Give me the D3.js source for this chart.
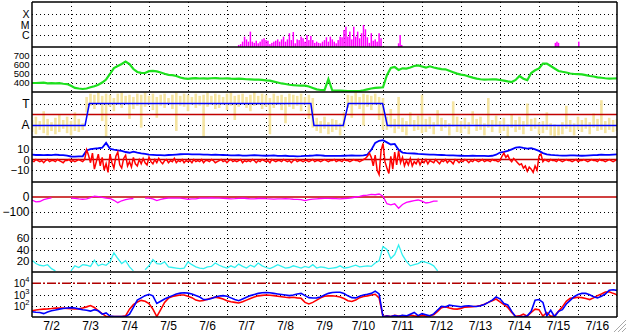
<!DOCTYPE html>
<html><head><meta charset="utf-8">
<script src="https://cdn.jsdelivr.net/npm/d3@7"></script>
<style>body{margin:0;background:#fff}svg{display:block}text{font-family:"Liberation Sans",Arial,sans-serif;fill:#000}</style>
</head><body><svg id="c" width="628" height="334"></svg>
<script>
// ---------- data ----------
const dayLabels = ["7/2","7/3","7/4","7/5","7/6","7/7","7/8","7/9","7/10","7/11","7/12","7/13","7/14","7/15","7/16"];
const sampleStep = 0.1;   // days between samples (series start at 7/2 00:00)
const bzStep = 0.05;      // finer sampling for Bz

const xrayLabels = ["X","M","C"];
const xrayTicks = [1e-4,1e-5,1e-6];
const xrayStart = 5.3, xrayStep = 0.05;
const xrayFlux = [1.0e-7,1.2e-7,2.1e-7,6.5e-7,3.5e-7,2.1e-7,2.0e-6,2.1e-7,1.6e-7,2.6e-7,
1.45e-7,2.1e-7,3.5e-7,4.5e-7,3.0e-7,2.6e-7,1.2e-7,1.6e-7,2.1e-7,2.6e-7,
3.5e-7,2.1e-7,3.5e-7,6.5e-7,2.1e-7,3.5e-7,1.4e-6,3.0e-7,1.85e-6,1.45e-7,
3.5e-7,3.0e-7,6.5e-7,4.5e-7,2.1e-7,9.3e-7,3.0e-7,7.6e-7,3.0e-7,1.6e-7,
2.1e-7,1.6e-7,1.45e-7,2.1e-7,3.0e-7,5.6e-7,2.1e-7,6.5e-7,3.5e-7,2.1e-7,
1.45e-7,3.0e-7,6.5e-7,5.6e-7,2.9e-6,6.1e-6,6.5e-7,2.0e-6,3.5e-7,6.1e-6,
6.5e-7,2.0e-6,4.5e-7,1.4e-6,8.9e-6,3.4e-6,5.6e-7,1.6e-7,1.4e-6,2.6e-7,
3.5e-7,2.1e-7,1.4e-6,4.5e-7];
const xrayExtraDays = [9.40,9.44,9.48,13.42,13.46,13.50,14.02];
const xrayExtraFlux = [1.45e-7,9.3e-7,1.0e-7,1.6e-7,2.1e-7,1.6e-7,2.1e-7];

const speedTicks = [400,500,600,700];
const windSpeed = [398,398,400,402,395,397,393,396,390,386,
367,344,338,333,338,351,363,380,403,436,
496,561,583,605,632,605,550,518,509,507,
527,529,524,512,498,487,483,474,458,449,
442,448,452,447,449,446,450,452,448,447,
449,446,444,445,442,439,437,435,434,431,
426,423,413,403,393,387,379,374,371,370,
369,360,344,329,322,320,440,316,315,314,
313,311,311,311,311,319,329,338,344,348,
351,484,561,572,540,558,554,567,583,590,
577,565,580,567,558,550,547,531,516,500,
490,482,469,456,446,439,435,436,437,437,
431,424,416,409,431,474,445,429,507,536,
556,610,610,583,556,529,520,512,501,496,
494,491,483,474,469,460,455,450,446,447,449];

const sectorLabels = ["T","A"];
const sectorTicks = [1,-1];
const sectorDays = [0,1.36,1.47,7.15,7.23,7.98,8.11,8.99,9.11,15];
const sectorPolarity = [-1,-1,1,1,-1,-1,1,1,-1,-1];
const imfHigh = [-0.5,-0.2,-0.6,0.3,-0.4,-0.7,-0.3,0.0,-0.5,-0.2,-0.6,0.2,-0.4,-0.8,
1.6,1.9,1.8,2.0,1.7,1.9,1.8,1.5,1.9,2.0,1.7,1.8,1.6,1.9,1.8,2.0,1.7,1.9,1.6,1.8,1.9,1.5,1.8,2.0,1.7,1.9,1.8,1.6,1.9,1.7,1.8,2.0,1.7,1.9,
1.8,1.6,1.9,2.0,1.7,1.8,1.9,1.6,1.8,2.0,1.7,1.9,1.8,1.5,1.9,1.7,1.8,1.6,1.9,1.8,1.7,1.9,1.6,1.8,1.5,
-0.3,-0.6,-0.2,-0.7,-0.4,-0.5,-0.8,0.2,
1.8,1.7,2.0,1.6,1.9,1.8,1.7,1.9,1.6,1.5,
-0.2,0.5,-0.4,1.6,-0.3,-0.6,0.2,-0.5,-0.1,1.8,
-0.4,-0.2,-0.7,0.4,-0.3,-0.5,-0.8,1.2,-0.2,-0.6,
-0.3,-0.7,0.3,-0.4,-0.2,-0.8,1.5,-0.5,-0.1,-0.6,
-0.3,-0.9,0.0,-0.5,-0.2,-0.6,1.0,-0.4,-0.3,-0.7,
-0.6,0.2,-0.8,-0.9,-1.0,-0.7,0.8,-0.5,-0.8,-0.2,
-0.5,-0.3,-0.7,0.1,-0.4,1.3,-0.6,-0.3,-0.5,-0.4];
const imfLow = [-1.6,-1.8,-1.4,-1.7,-1.9,-1.5,-1.8,-1.6,-1.3,-1.7,-1.9,-1.5,-1.6,-1.4,
0.2,0.8,0.5,0.9,-0.6,-2.0,0.7,0.3,0.9,0.6,1.0,-0.4,0.5,0.8,-1.2,0.7,0.9,0.4,-0.3,0.8,0.6,1.0,0.5,-1.5,0.8,0.7,0.3,0.9,0.6,0.8,-2.0,0.7,0.9,0.5,
0.6,0.9,0.4,0.8,-0.5,0.7,1.0,0.6,0.3,0.8,0.9,0.5,0.7,-1.8,0.6,0.9,0.4,-0.8,0.7,0.5,0.8,0.3,0.9,-0.4,-1.2,
-1.5,-1.7,-1.3,-1.8,-1.6,-1.4,-1.9,-1.2,
0.6,-0.3,0.8,0.5,-1.0,0.7,0.4,0.9,-0.5,-1.4,
-1.4,-1.2,-1.7,-1.3,-1.6,-1.9,-1.1,-1.5,-1.4,-1.7,
-1.6,-1.3,-1.8,-1.0,-1.5,-1.2,-1.9,-1.1,-1.6,-1.7,
-1.3,-1.8,-0.9,-1.5,-1.4,-1.9,-1.2,-1.6,-1.1,-1.7,
-1.5,-2.0,-1.2,-1.6,-1.4,-1.8,-1.1,-1.5,-1.3,-1.8,
-1.7,-1.4,-1.9,-2.0,-1.9,-1.8,-1.3,-1.6,-1.9,-1.4,
-1.6,-1.3,-1.8,-1.2,-1.5,-1.4,-1.7,-1.4,-1.6,-1.5];

const bTicks = [10,0,-10];
const bt = [4.5,4.2,4.4,4.0,4.3,4.1,4.5,4.2,4.0,3.6,
2.8,2.6,2.9,3.0,8.5,9.6,10.2,10.5,11,15.5,
10,9.2,8.6,8,7,6.3,7.3,6.5,5.8,5.2,
4.6,4.3,4.0,4.1,3.9,4.2,4.3,4.6,4.9,5.1,
5.0,4.8,4.7,4.8,4.6,4.5,4.4,4.5,4.3,4.2,
4.0,3.8,3.9,4.1,3.7,3.6,3.8,4.0,3.9,3.7,
3.5,3.6,3.8,3.4,3.3,3.5,3.2,3.1,3.0,3.1,
3.4,3.5,3.7,4.0,3.8,3.5,3.3,3.3,3.4,3.3,
3.5,3.6,3.8,3.7,3.6,3.8,4.5,9,15.5,17.5,
18,16,14,14.5,9,6.5,6.0,5.8,5.6,5.2,
5.0,4.8,4.6,4.5,4.3,4.2,4.0,3.9,3.8,3.6,
3.5,3.4,3.4,3.5,3.3,3.4,3.3,3.2,3.5,4.5,
6.5,7.2,8.0,9.5,11,11.5,10.8,10.2,10.5,9.5,
8.0,6.0,4.8,4.3,4.0,3.8,3.7,3.6,3.8,3.9,
3.7,3.5,3.6,3.8,4.0,4.2,4.5,4.3,4.4,4.6,4.8];
const bz = [-1,-2,0,-1,-2,-1,-3,-1,0,-2,-1,-1,-2,0,-1,-2,-3,-1,-1,0,-2,-1,-2,-1,0,-1,-2,
0,9,4,-3,6,-9,-2,5,-6,2,-10,-4,-12,5,-3,-8,3,7,-5,-8,1,4,-6,-2,-7,2,-4,-6,0,-4,1,-3,-5,
2,-2,-4,0,-3,1,-2,-4,-1,0,-3,-1,-2,1,-3,-1,-2,0,-3,-1,-2,
-1,-3,0,-2,-1,-2,0,-3,-1,-1,
-2,0,-1,-3,-2,-1,0,-2,-1,-3,
-1,0,-2,-1,-2,-1,0,-3,-1,-2,
-1,-2,0,-1,-3,-1,-2,0,-1,-2,
-1,-3,0,-1,-2,-1,-1,-2,0,-1,
-2,-1,-3,-1,0,-2,-1,-1,-2,-1,
-1,-2,-1,0,-2,-1,-1,-2,-1,0,
-1,-2,-1,-1,0,-2,-1,-1,-2,0,
-1,-1,-2,-1,0,-1,-1,-2,-1,0,
1,3,6,2,-6,4,-10,-14,8,15,-2,-8,-13,3,-9,7,-5,8,-3,2,-6,-1,-5,1,-6,-2,-4,0,-5,-1,
-3,0,-4,-1,-2,-3,0,-2,-4,-1,
-2,0,-3,-1,-2,-4,0,-1,-3,-1,
-2,0,-1,-3,-1,-2,0,-1,-2,-1,
0,-2,-1,-1,-2,0,-1,-1,-2,-1,
3,6,2,4,0,-2,1,-1,-3,-5,-4,-8,-6,-11,-7,-9,-12,-6,-10,3,5,-2,0,
-1,-2,0,-1,-1,-2,0,-1,-2,-1,
0,-1,-1,-2,-1,0,-2,-1,-1,0,
-1,-2,-1,0,-1,-1,-2,0,-1,-1,
-2,-1,0,-1,-2,-1,0];

const dstTicks = [0,-100];
const dst = [-20,-33,-30,-18,-11,-6,null,null,null,null,
-7,-9,-13,-15,-12,-5,5,3,-3,-8,
-10,-22,-38,-25,-18,-12,-10,null,null,-8,
-8,-12,-24,-16,-10,-8,-7,-7,-7,-11,
-15,-13,-12,-8,-7,-7,-6,-7,-8,-9,
-10,-12,-11,-9,-8,-10,-13,-12,-10,-9,
-11,-12,-14,-13,-12,-11,-13,-15,-16,-18,
-24,-18,-14,-12,-10,-9,-9,-10,-11,-12,
-10,-9,-5,0,4,10,13,18,15,20,
5,-45,-52,-45,-75,-50,-36,-30,-24,-20,
-28,-40,-36,-28,-27];

const cyanTicks = [20,40,60];
const cyanSeries = [21,15,12,11,13,6,2,null,null,null,
2,11,8,13,12,10,21,11,14,12,
18,34,24,15,20,9,2,null,null,4,
11,22,15,14,18,9,8,7,6,7,
18,13,9,7,6,9,10,16,12,9,
7,11,8,14,10,7,12,9,16,11,
8,6,9,13,10,7,8,11,9,7,
10,8,13,7,9,8,6,7,8,11,
7,8,10,12,9,10,11,10,16,20,
45,40,24,31,48,30,19,11,13,15,
19,17,15,11,2];

const fluxTickExp = [4,3,2];
const fluxBlueExp = [1.47,1.42,1.40,1.30,1.45,1.55,1.62,1.70,1.75,1.80,
1.83,1.80,1.72,1.64,1.60,1.52,1.65,1.55,1.25,1.36,
1.08,1.03,1.03,1.04,1.03,1.25,1.85,2.5,2.7,2.9,
3.02,2.88,2.2,2.4,2.6,2.75,2.9,3.05,3.12,3.15,
3.12,3.05,2.92,2.78,2.55,2.55,2.65,2.78,2.87,2.9,
2.85,2.7,2.55,2.45,2.6,2.75,2.9,3.0,3.1,3.15,
3.18,3.15,3.1,3.05,3.0,2.95,2.9,2.95,3.05,3.1,
2.9,2.72,2.69,2.7,2.78,2.96,3.1,3.18,3.2,3.2,
3.08,2.88,2.72,2.7,2.85,2.95,3.02,3.1,3.3,3.05,
1.02,1.08,1.05,1.12,1.06,1.15,1.1,1.25,1.4,1.12,
1.3,1.2,1.1,1.28,1.62,1.95,1.9,2.05,2.0,1.95,
1.9,1.98,2.0,1.96,1.94,2.0,2.12,2.3,2.5,2.78,
2.62,2.2,2.07,1.5,1.02,1.05,1.02,1.1,1.5,2.5,
2.55,2.3,1.1,1.6,1.02,1.5,1.65,2.16,2.48,2.8,
3.0,3.1,3.1,2.98,2.8,2.7,2.85,3.04,3.38,3.42,3.37];
const fluxRedExp = [1.56,1.62,1.66,1.70,1.72,1.75,1.79,1.80,1.79,1.76,
1.74,1.71,1.72,1.80,1.9,2.02,1.85,1.55,1.3,1.06,
1.03,1.04,1.03,1.04,1.1,1.7,2.1,2.33,2.48,2.4,
2.2,1.7,1.04,1.65,2.3,2.68,2.82,2.9,2.96,2.95,
2.85,2.72,2.5,2.42,2.46,2.58,2.68,2.75,2.7,2.6,
2.45,2.35,2.3,2.25,2.35,2.5,2.65,2.78,2.88,2.92,
2.95,2.93,2.9,2.85,2.8,2.75,2.72,2.75,2.7,2.66,
2.3,2.16,2.3,2.5,2.7,2.84,2.88,2.89,2.85,2.78,
2.65,2.45,2.38,2.5,2.72,2.82,2.88,2.95,3.02,2.7,
1.03,1.1,1.05,1.15,1.08,1.12,1.05,1.18,1.1,1.06,
1.14,1.08,1.12,1.2,1.5,1.82,1.92,1.8,1.72,1.7,
1.75,1.88,1.9,1.92,1.96,2.02,2.14,2.3,2.45,2.6,
2.35,2.1,1.85,1.4,1.06,1.1,1.25,1.08,1.4,1.7,
1.65,1.08,1.4,1.06,1.1,1.5,1.9,2.4,2.66,2.7,
2.75,2.72,2.64,2.55,2.7,2.9,3.05,3.22,3.24,3.1,2.98];

// ---------- layout ----------
const svg = d3.select("#c");
const X0 = 32, X1 = 617, TOP = 2, PH = 45, NP = 7;
const pTop = i => TOP + i * PH, pBot = i => TOP + (i + 1) * PH;
const x = d3.scaleLinear().domain([0, dayLabels.length]).range([X0, X1]);
const tx = (d, i) => x(i * sampleStep);

const yX = d3.scaleLog().domain([10 ** -7.2, 10 ** -2.8]).range([pBot(0), pTop(0)]);
const yV = d3.scaleLinear().domain([300, 790]).range([pBot(1), pTop(1)]);
const yS = d3.scaleLinear().domain([-2.05, 2.05]).range([pBot(2), pTop(2)]);
const yB = d3.scaleLinear().domain([-21, 21]).range([pBot(3), pTop(3)]);
const yD = d3.scaleLinear().domain([-200, 100]).range([pBot(4), pTop(4)]);
const yC = d3.scaleLinear().domain([0, 80]).range([pBot(5), pTop(5)]);
const yF = d3.scaleLog().domain([10, 1e5]).range([pBot(6), pTop(6)]);

const defs = svg.append("defs");
for (let i = 0; i < NP; i++) {
  defs.append("clipPath").attr("id", "cp" + i).append("rect")
    .attr("x", X0).attr("y", pTop(i)).attr("width", X1 - X0).attr("height", PH);
}
const px = v => Math.round(v) + 0.5;

// ---------- grid ----------
const grid = svg.append("g").attr("stroke", "#000").attr("stroke-width", 1).attr("stroke-dasharray", "1,3");
d3.range(1, dayLabels.length).forEach(d => {
  grid.append("line").attr("x1", px(x(d))).attr("x2", px(x(d))).attr("y1", TOP).attr("y2", pBot(6));
});
function hgrid(scale, vals) {
  vals.forEach(v => grid.append("line").attr("x1", X0).attr("x2", X1)
    .attr("y1", px(scale(v))).attr("y2", px(scale(v))));
}
hgrid(yX, xrayTicks);
hgrid(yV, speedTicks);
hgrid(yS, sectorTicks);
hgrid(yB, [10, -10]);
hgrid(yD, [-100]);
hgrid(yC, cyanTicks);
hgrid(yF, [1e3, 1e2]);

// ---------- data marks ----------
function drawLine(panel, arr, xf, yf, color, w) {
  svg.append("path").attr("clip-path", `url(#cp${panel})`)
    .attr("d", d3.line().defined(d => d != null).x(xf).y(yf)(arr))
    .attr("fill", "none").attr("stroke", color).attr("stroke-width", w)
    .attr("stroke-linejoin", "miter");
}

// Panel 0: X-ray bars
const gx = svg.append("g").attr("clip-path", "url(#cp0)").attr("fill", "#ff00ff");
xrayFlux.forEach((f, k) => {
  const xx = x(xrayStart + k * xrayStep);
  gx.append("rect").attr("x", xx - 0.75).attr("width", 1.5)
    .attr("y", yX(f)).attr("height", pBot(0) - yX(f));
});
xrayExtraFlux.forEach((f, k) => {
  const xx = x(xrayExtraDays[k]);
  gx.append("rect").attr("x", xx - 0.75).attr("width", 1.5)
    .attr("y", yX(f)).attr("height", pBot(0) - yX(f));
});

// Panel 1: wind speed
drawLine(1, windSpeed, tx, d => yV(d), "#1ee01e", 2.2);

// Panel 2: sector (yellow spread as streaks, blue polarity)
const gy = svg.append("g").attr("clip-path", "url(#cp2)").attr("fill", "#f5e4a0");
imfHigh.forEach((h, i) => {
  const y1 = yS(h), y2 = yS(imfLow[i]);
  gy.append("rect").attr("x", x(i * sampleStep) - 1.3).attr("width", 2.6)
    .attr("y", Math.min(y1, y2)).attr("height", Math.abs(y2 - y1));
});
svg.append("line").attr("x1", X0).attr("x2", X1).attr("y1", yS(0)).attr("y2", yS(0))
  .attr("stroke", "#c00000").attr("stroke-width", 1.5);
drawLine(2, sectorPolarity, (d, i) => x(sectorDays[i]), d => yS(d), "#0000ff", 1.5);

// Panel 3: IMF
svg.append("line").attr("x1", X0).attr("x2", X1).attr("y1", yB(0)).attr("y2", yB(0))
  .attr("stroke", "#c00000").attr("stroke-width", 1.5);
drawLine(3, bt, tx, d => yB(d), "#0000ff", 1.8);
drawLine(3, bz, (d, i) => x(i * bzStep), d => yB(d), "#ff0000", 1.5);

// Panel 4: Dst
svg.append("line").attr("x1", X0).attr("x2", X1).attr("y1", yD(0)).attr("y2", yD(0))
  .attr("stroke", "#c00000").attr("stroke-width", 1.5);
drawLine(4, dst, tx, d => yD(d), "#ff00ff", 1.3);

// Panel 5: cyan
drawLine(5, cyanSeries, tx, d => yC(d), "#33f0f0", 1.3);

// Panel 6: flux
svg.append("line").attr("x1", X0).attr("x2", X1).attr("y1", yF(1e4)).attr("y2", yF(1e4))
  .attr("stroke", "#b00000").attr("stroke-width", 1.5).attr("stroke-dasharray", "9,2,2,2");
drawLine(6, fluxRedExp, tx, d => yF(10 ** d), "#ff0000", 1.6);
drawLine(6, fluxBlueExp, tx, d => yF(10 ** d), "#0000ff", 1.6);

// ---------- frame ----------
const frame = svg.append("g").attr("stroke", "#000").attr("stroke-width", 1.5);
for (let i = 0; i <= NP; i++) {
  frame.append("line").attr("x1", X0).attr("x2", X1).attr("y1", pTop(i)).attr("y2", pTop(i));
}
frame.append("line").attr("x1", X0).attr("x2", X0).attr("y1", TOP).attr("y2", pBot(6));
frame.append("line").attr("x1", X1).attr("x2", X1).attr("y1", TOP).attr("y2", pBot(6));

// ---------- labels ----------
const LX = 29.5;
function ylab(scale, vals, texts, fs) {
  vals.forEach((v, k) => svg.append("text").attr("x", LX).attr("y", scale(v))
    .attr("text-anchor", "end").attr("dominant-baseline", "central")
    .attr("font-size", fs).text(texts ? texts[k] : String(v).replace("-", "\u2212")));
}
ylab(yX, xrayTicks, xrayLabels, 10.5);
ylab(yV, speedTicks, null, 9.5);
ylab(yS, sectorTicks, sectorLabels, 12);
ylab(yB, bTicks, null, 11);
ylab(yD, dstTicks, null, 12);
ylab(yC, cyanTicks, null, 11.5);
fluxTickExp.forEach(e => {
  const t = svg.append("text").attr("x", LX).attr("y", yF(10 ** e) + 4)
    .attr("text-anchor", "end").attr("font-size", 10.5);
  t.append("tspan").text("10");
  t.append("tspan").attr("font-size", 7.5).attr("dy", -5).text(e);
});
dayLabels.forEach((lab, d) => {
  svg.append("text").attr("x", x(d + 0.5)).attr("y", 330).attr("text-anchor", "middle")
    .attr("font-size", 12).text(lab);
});

// window resize grip
const grip = svg.append("g").attr("stroke", "#a8a8a8").attr("stroke-width", 1);
[[614, 332, 626, 320], [618, 332, 626, 324], [622, 332, 626, 328]].forEach(s =>
  grip.append("line").attr("x1", s[0]).attr("y1", s[1]).attr("x2", s[2]).attr("y2", s[3]));
</script></body></html>
